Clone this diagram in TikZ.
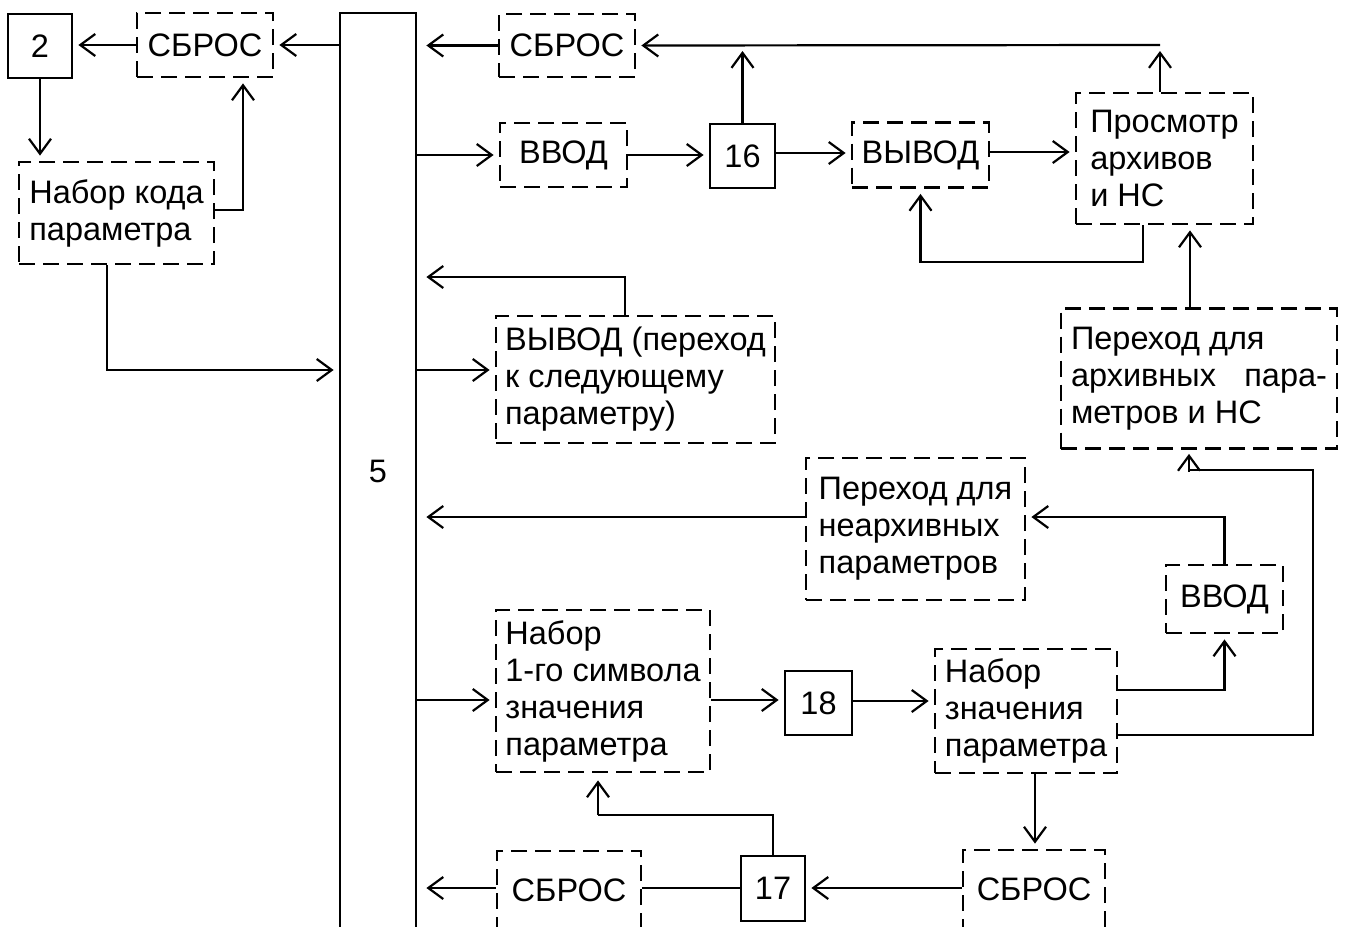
\documentclass[tikz,border=0pt]{standalone}
\usepackage{fontspec}
\setmainfont{Liberation Sans}
\usetikzlibrary{arrows.meta}
\begin{document}
\begin{tikzpicture}[x=1pt,y=-1pt,
  every node/.style={font=\fontsize{32.5}{37}\selectfont, inner sep=0pt, align=left},
  sbox/.style={draw, line width=2.8pt},
  dbox/.style={draw, line width=2.8pt, dash pattern=on 16pt off 8pt},
  arr/.style={line width=2.2pt, -{Straight Barb[length=15pt,width=22pt,line width=2.2pt]}, shorten >=5pt},
  arrb/.style={arr, shorten >=9pt},
  ln/.style={line width=2.2pt}]
\useasboundingbox (0,0) rectangle (1345,927);
% nodes
\node[sbox, minimum width=76pt, minimum height=917pt] (b5) at (378,471.5) {5};
\node[sbox, minimum width=64pt, minimum height=64pt] (b2) at (40,46) {2};
\node[dbox, minimum width=136pt, minimum height=64pt] (s1) at (205,45) {СБРОС};
\node[dbox, minimum width=195pt, minimum height=102pt] (nk) at (116.5,213) {Набор кода\\параметра};
\node[dbox, minimum width=136pt, minimum height=63pt] (s2) at (567,45.5) {СБРОС};
\node[dbox, minimum width=127pt, minimum height=64pt] (vv1) at (563.5,155) {ВВОД};
\node[sbox, minimum width=65pt, minimum height=64pt] (b16) at (742.5,156) {16};
\node[dbox, minimum width=137pt, minimum height=65pt] (vy1) at (920.5,155) {ВЫВОД};
\node[dbox, minimum width=177pt, minimum height=131pt] (pr) at (1164.5,158.5) {Просмотр\\архивов\\и НС};
\node[dbox, minimum width=276pt, minimum height=140pt] (pa) at (1199,378.5) {Переход для\\\makebox[256pt][l]{архивных\hfill пара-}\\метров и НС};
\node[dbox, minimum width=279pt, minimum height=127pt] (vp) at (635.5,379.5) {ВЫВОД (переход\\к следующему\\параметру)};
\node[dbox, minimum width=219pt, minimum height=142pt] (pn) at (915.5,529) {Переход для\\неархивных\\параметров};
\node[dbox, minimum width=117pt, minimum height=68pt] (vv2) at (1224.5,599) {ВВОД};
\node[dbox, minimum width=214pt, minimum height=162pt] (n1) at (603,691) {Набор\\1-го символа\\значения\\параметра};
\node[sbox, minimum width=67pt, minimum height=64pt] (b18) at (818.5,703) {18};
\node[dbox, minimum width=182pt, minimum height=124pt] (nz) at (1026,711) {Набор\\значения\\параметра};
\node[dbox, minimum width=142pt, minimum height=79pt] (s3) at (1034,889.5) {СБРОС};
\node[sbox, minimum width=64pt, minimum height=65pt] (b17) at (773,888.5) {17};
\node[dbox, minimum width=144pt, minimum height=78pt] (s4) at (569,890) {СБРОС};
\coordinate (bus) at (1160,45);
\coordinate (k1) at (1313,470);
\coordinate (k2) at (1189,470);
\coordinate (k2b) at (1189,520);
\coordinate (k3) at (598,815);
% connectors
\draw[arr] (b5.west |- s1.east) -- (s1.east);
\draw[arr] (s1.west) -- (s1.west -| b2.east);
\draw[arr] (b2.south) -- (b2.south |- nk.north);
\draw[arr] (nk.east |- 0,210) -| (s1.south -| 243,0);
\draw[arr] (nk.south -| 107,0) |- (b5.west |- 0,370);
\draw[arrb] (s2.west) -- (s2.west -| b5.east);
\draw[arr] (bus) -- (s2.east);
\draw[arr, shorten >=6pt] (pr.north -| bus) -- (bus);
\draw[arr, shorten >=6pt] (b16.north) -- (b16.north |- bus);
\draw[arr] (b5.east |- vv1.west) -- (vv1.west);
\draw[arr] (vv1.east) -- (vv1.east -| b16.west);
\draw[arr] (b16.east |- 0,153) -- (vy1.west |- 0,153);
\draw[arr] (vy1.east |- 0,152) -- (pr.west |- 0,152);
\draw[arr] (pr.south -| 1143,0) |- (vy1.south |- 0,262) -- (vy1.south);
\draw[arr] (pa.north -| 1190,0) -- (pr.south -| 1190,0);
\draw[ln] (nz.east |- 0,735) -| (k1) -- (k2);
\begin{scope}
  \clip (1150,440) rectangle (1230,471.1);
  \draw[arr, shorten >=4pt] (k2b) -- (pa.south -| k2b);
\end{scope}
\draw[arr] (b5.east |- 0,370) -- (vp.west |- 0,370);
\draw[arrb] (vp.north -| 625,0) |- (b5.east |- 0,277);
\draw[arrb] (pn.west |- 0,517) -- (b5.east |- 0,517);
\draw[arr] (vv2.north) |- (pn.east |- 0,517);
\draw[arr] (b5.east |- 0,700) -- (n1.west |- 0,700);
\draw[arr] (n1.east |- 0,700) -- (b18.west |- 0,700);
\draw[arr] (b18.east |- 0,701) -- (nz.west |- 0,701);
\draw[arr] (nz.east |- 0,690) -| (vv2.south);
\draw[arr] (nz.south -| 1035,0) -- (s3.north -| 1035,0);
\draw[arr] (s3.west |- 0,888) -- (b17.east |- 0,888);
\draw[ln] (b17.north) |- (k3);
\draw[arr, shorten >=7pt] (k3) -- (n1.south -| k3);
\draw[ln] (b17.west |- 0,888) -- (s4.east |- 0,888);
\draw[arrb] (s4.west |- 0,888) -- (b5.east |- 0,888);
\end{tikzpicture}
\end{document}
